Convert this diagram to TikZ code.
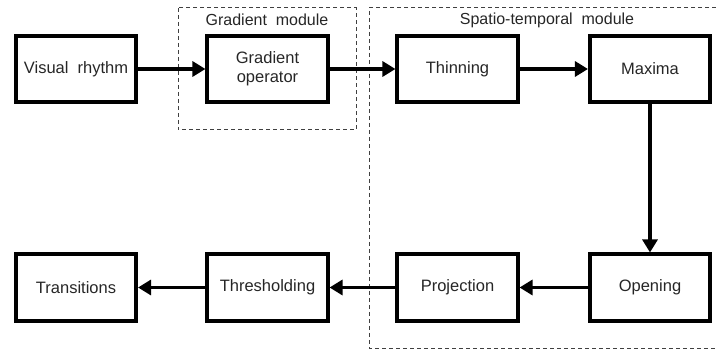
\documentclass[tikz,border=0pt]{standalone}
\usepackage{fontspec}
\setmainfont{Liberation Sans}
\usetikzlibrary{arrows.meta}
\begin{document}
\begin{tikzpicture}[x=1pt,y=-1pt,
  blockbox/.style={draw=black, line width=3.6pt, minimum width=120.5pt, minimum height=66.5pt, inner sep=2pt, align=center, font=\fontsize{16.5}{19}\selectfont, text=black!85},
  flow/.style={line width=3.4pt, -{Triangle[length=13pt,width=15pt]}},
  modbox/.style={draw=black!75, line width=1pt, dash pattern=on 4pt off 3pt},
  modlabel/.style={font=\fontsize{16}{18}\selectfont, text=black!85}]
\useasboundingbox (0,0) rectangle (716,350);
% module frames
\draw[modbox] (178,8) rectangle (356,130);
\draw[modbox] (716,8) -- (369,8) -- (369,348) -- (716,348);
\node[modlabel] (gmlabel) at (267,20) {Gradient\ \ module};
\node[modlabel] (stlabel) at (547,20) {Spatio-temporal\ \ module};
% blocks
\node[blockbox] (vr) at (76,69) {Visual\ \ rhythm};
\node[blockbox] (go) at (267.5,69) {Gradient\\operator};
\node[blockbox] (th) at (457.5,69) {Thinning};
\node[blockbox] (mx) at (650,69) {Maxima};
\node[blockbox] (tr) at (76,287.5) {Transitions};
\node[blockbox] (ts) at (267.5,287.5) {Thresholding};
\node[blockbox] (pr) at (457.5,287.5) {Projection};
\node[blockbox] (op) at (650,287.5) {Opening};
% connectors
\draw[flow] (vr) -- (go);
\draw[flow] (go) -- (th);
\draw[flow] (th) -- (mx);
\draw[flow] (mx) -- (op);
\draw[flow] (op) -- (pr);
\draw[flow] (pr) -- (ts);
\draw[flow] (ts) -- (tr);
\end{tikzpicture}
\end{document}
